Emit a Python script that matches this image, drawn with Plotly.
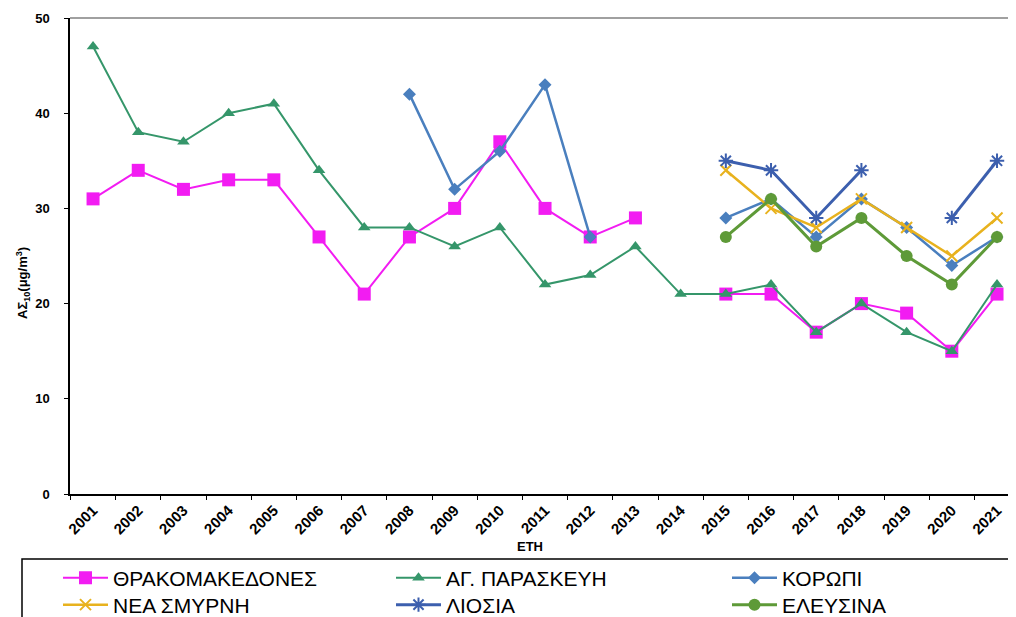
import plotly.graph_objects as go

years = [str(y) for y in range(2001, 2022)]

thrako = [31, 34, 32, 33, 33, 27, 21, 27, 30, 37, 30, 27, 29, None, 21, 21, 17, 20, 19, 15, 21]
agpar = [47, 38, 37, 40, 41, 34, 28, 28, 26, 28, 22, 23, 26, 21, 21, 22, 17, 20, 17, 15, 22]
koropi = [None]*7 + [42, 32, 36, 43, 27, None, None, 29, 31, 27, 31, 28, 24, 27]
nsmyrni = [None]*14 + [34, 30, 28, 31, 28, 25, 29]
liosia = [None]*14 + [35, 34, 29, 34, None, 29, 35]
elefsina = [None]*14 + [27, 31, 26, 29, 25, 22, 27]

# page has an 8px body margin; work in page pixel coordinates and convert
OFF = 8
W, H = 1016 - OFF, 617 - OFF
# plot area in page coordinates
PL, PR, PT, PB = 70, 1016, 18, 494
L, T = PL - OFF, PT - OFF
R = (W + OFF) - PR
B = (H + OFF) - PB
pw, ph = W - L - R, H - T - B

def px_x(p):
    return (p - PL) / pw

def px_y(p):
    return (PB - p) / ph

fig = go.Figure()

def add(name, y, color, symbol, size, lw, legend, mline=None):
    marker = dict(symbol=symbol, size=size, color=color)
    if mline:
        marker["line"] = dict(color=color, width=mline)
    fig.add_trace(go.Scatter(x=years, y=y, name=name, mode="lines+markers",
                             line=dict(color=color, width=lw), marker=marker,
                             connectgaps=False, legend=legend))

add("ΘΡΑΚΟΜΑΚΕΔΟΝΕΣ", thrako, "#F21CF2", "square", 13, 2, "legend")
add("ΑΓ. ΠΑΡΑΣΚΕΥΗ", agpar, "#35966A", "triangle-up", 11, 2, "legend2")
add("ΚΟΡΩΠΙ", koropi, "#4A7FBE", "diamond", 10, 2.5, "legend3")
add("ΝΕΑ ΣΜΥΡΝΗ", nsmyrni, "#E8B21E", "x-thin-open", 11, 2.5, "legend4", mline=2)
add("ΛΙΟΣΙΑ", liosia, "#3C5FAE", "asterisk-open", 12, 3, "legend5", mline=2)
add("ΕΛΕΥΣΙΝΑ", elefsina, "#5E9A38", "circle", 12, 3, "legend6")

lfont = dict(family="Liberation Sans, Arial, sans-serif", size=21, color="black")

def leg(xp, yp):
    return dict(orientation="v", font=lfont, bgcolor="rgba(0,0,0,0)",
                x=px_x(xp), y=px_y(yp), yanchor="middle", xanchor="left",
                itemwidth=45)

row1, row2 = 578, 605
col1, col2, col3 = 58, 391, 727

fig.update_layout(
    width=W, height=H,
    margin=dict(l=L, r=R, t=T, b=B, autoexpand=False),
    paper_bgcolor="white", plot_bgcolor="white",
    font=dict(family="Liberation Sans, Arial, sans-serif", color="black"),
    showlegend=True,
    legend=leg(col1, row1),
    legend2=leg(col2, row1),
    legend3=leg(col3, row1),
    legend4=leg(col1, row2),
    legend5=leg(col2, row2),
    legend6=leg(col3, row2),
    xaxis=dict(type="category", range=[-0.51, 20.42], showline=True, linecolor="black",
               linewidth=1.5, ticks="outside", tickson="boundaries", ticklen=4,
               tickcolor="black", tickangle=-45, showgrid=False, zeroline=False,
               tickfont=dict(size=15, weight="bold", color="black")),
    yaxis=dict(range=[0, 50], dtick=10, showline=True, linecolor="black", linewidth=1.5,
               ticks="outside", ticklen=4, tickcolor="black", showgrid=False, zeroline=False,
               ticklabelstandoff=12,
               tickfont=dict(size=13, weight="bold", color="black")),
    annotations=[
        dict(text="ΑΣ<sub>10</sub>(μg/m<sup>3</sup>)", textangle=-90, showarrow=False,
             xref="paper", yref="paper", x=px_x(23), y=px_y(283),
             xanchor="center", yanchor="middle", font=dict(size=13, weight="bold")),
        dict(text="ΕΤΗ", showarrow=False, xref="paper", yref="paper",
             x=px_x(530), y=px_y(546), xanchor="center", yanchor="middle",
             font=dict(size=13, weight="bold")),
    ],
    shapes=[
        dict(type="line", xref="paper", yref="paper", x0=0, x1=1, y0=1, y1=1,
             line=dict(color="#808080", width=1.5)),
        dict(type="rect", xref="paper", yref="paper", x0=px_x(22), x1=px_x(1030),
             y0=px_y(559), y1=px_y(640), line=dict(color="black", width=1.5)),
    ],
)

fig.write_html("out.html")
